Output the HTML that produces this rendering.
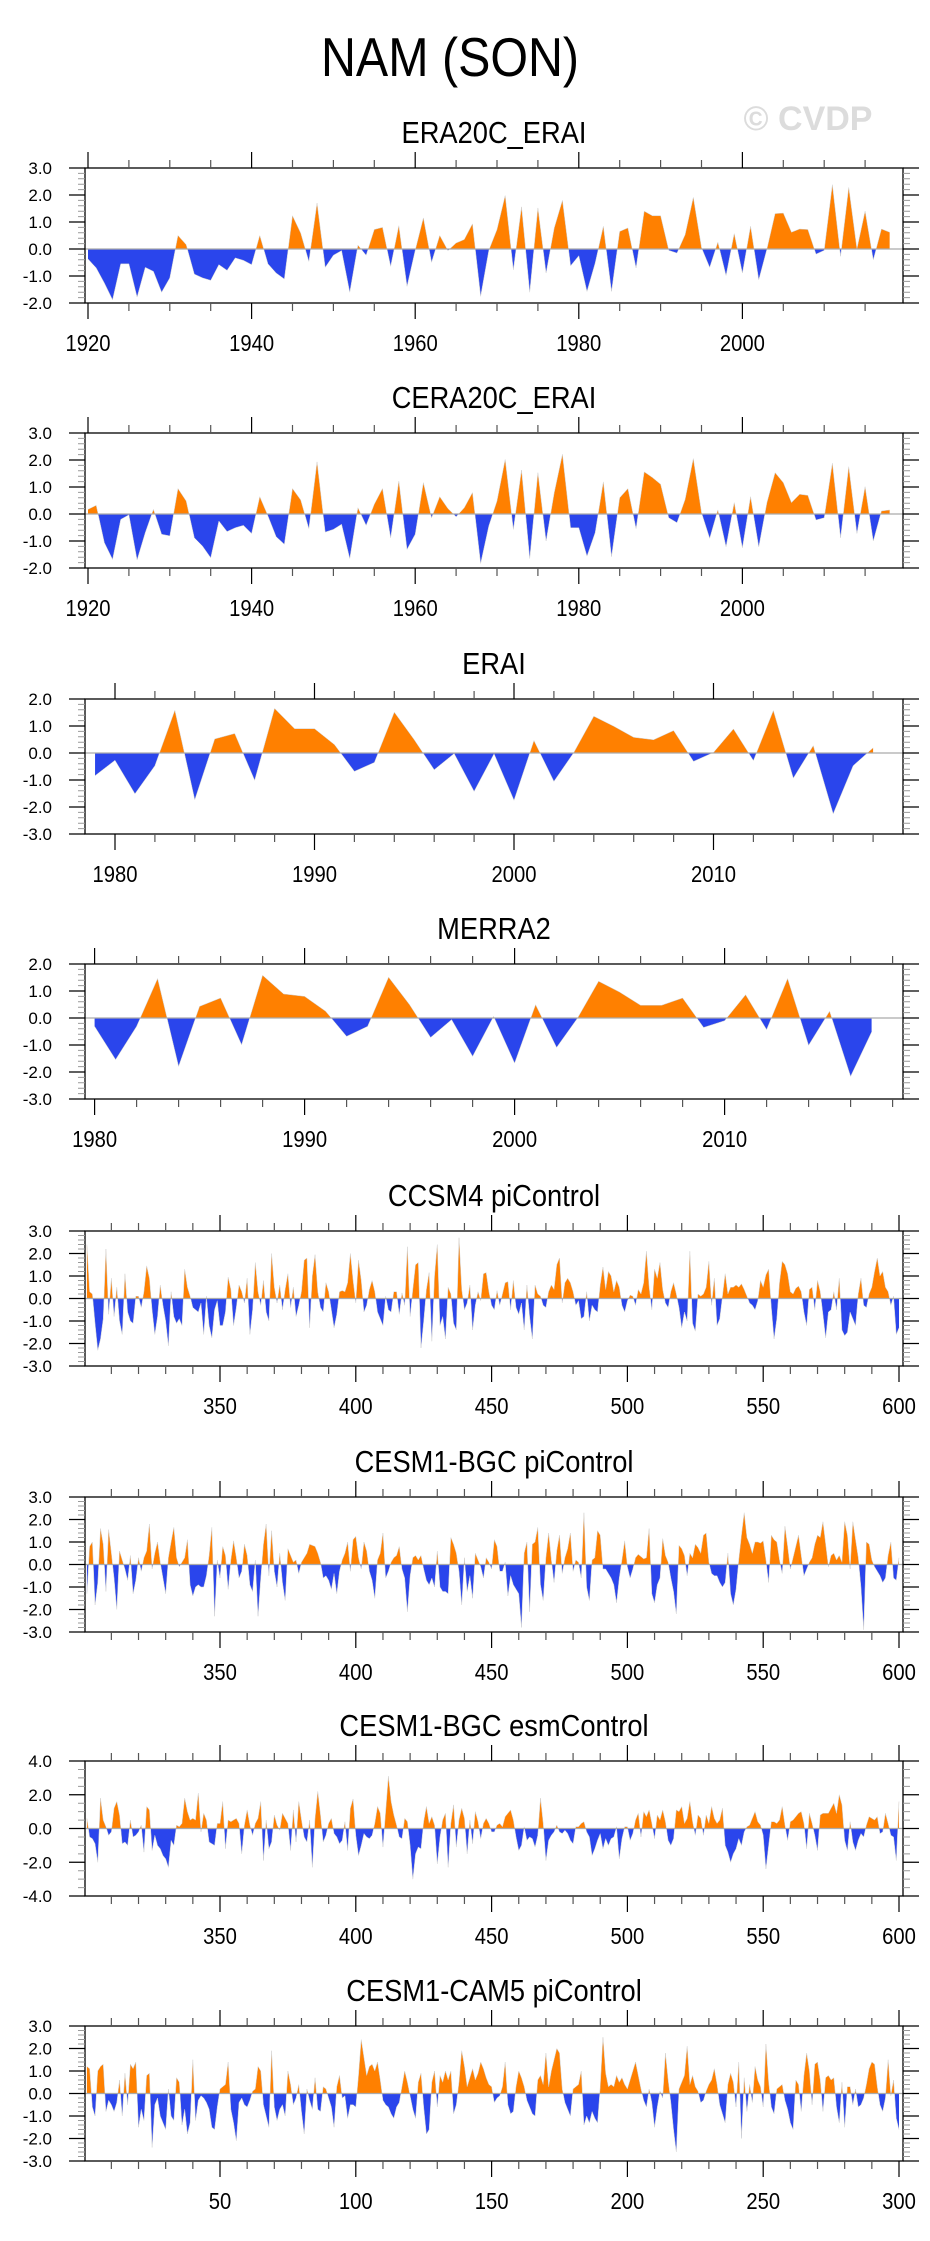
<!DOCTYPE html>
<html><head><meta charset="utf-8"><title>NAM (SON)</title>
<style>
html,body{margin:0;padding:0;background:#fff;}
svg{display:block;font-family:"Liberation Sans",Arial,sans-serif;}
</style></head>
<body>
<svg id="fig" width="930" height="2241" viewBox="0 0 930 2241" xmlns="http://www.w3.org/2000/svg">
<rect x="0" y="0" width="930" height="2241" fill="#fff"/>
<text transform="translate(450,76) scale(0.88,1)" x="0" y="0" font-size="55" text-anchor="middle" fill="#000">NAM (SON)</text>
<text x="808" y="130" font-size="34" font-weight="bold" text-anchor="middle" fill="#dcdcdc">© CVDP</text>
</svg>
<script>
const era20cVals=[-0.37,-0.7,-1.26,-1.88,-0.55,-0.55,-1.78,-0.68,-0.83,-1.6,
-1.07,0.5,0.16,-0.93,-1.07,-1.16,-0.58,-0.79,-0.33,-0.42,
-0.58,0.5,-0.55,-0.89,-1.11,1.23,0.59,-0.46,1.7,-0.68,
-0.23,-0.06,-1.6,0.14,-0.23,0.72,0.8,-0.64,0.86,-1.38,
-0.05,1.15,-0.49,0.5,-0.06,0.22,0.35,0.93,-1.75,-0.05,
0.72,1.98,-0.77,1.56,-1.6,1.52,-0.89,0.78,1.8,-0.62,
-0.25,-1.57,-0.52,0.84,-1.57,0.65,0.78,-0.7,1.4,1.23,
1.23,-0.05,-0.15,0.53,1.91,0.05,-0.68,0.25,-0.98,0.57,
-0.89,0.84,-1.14,0.0,1.31,1.33,0.62,0.74,0.72,-0.19,
-0.05,2.38,-0.27,2.28,0.0,1.4,-0.4,0.74,0.62];
const cera20cVals=[0.17,0.32,-1.06,-1.68,-0.2,-0.03,-1.7,-0.69,0.17,-0.75,
-0.81,0.94,0.48,-0.88,-1.19,-1.62,-0.26,-0.65,-0.51,-0.42,
-0.72,0.64,-0.07,-0.84,-1.12,0.94,0.52,-0.54,1.93,-0.67,
-0.57,-0.38,-1.65,0.23,-0.42,0.36,0.94,-0.88,1.22,-1.31,
-0.75,1.16,-0.14,0.64,0.2,-0.1,0.23,0.79,-1.83,-0.44,
0.48,2.02,-0.57,1.63,-1.65,1.53,-1.0,0.79,2.21,-0.51,
-0.51,-1.56,-0.69,1.19,-1.58,0.6,0.94,-0.54,1.56,1.35,
1.1,-0.14,-0.32,0.54,2.05,0.05,-0.9,0.15,-1.21,0.42,
-1.25,0.64,-1.22,0.42,1.53,1.16,0.42,0.73,0.69,-0.22,
-0.14,1.88,-0.88,1.75,-0.72,1.01,-1.0,0.11,0.15];
const eraiVals=[-0.84,-0.27,-1.51,-0.47,1.58,-1.73,0.52,0.72,-1.01,1.65,
0.9,0.9,0.31,-0.68,-0.35,1.51,0.49,-0.62,-0.02,-1.42,
-0.03,-1.75,0.46,-1.05,0.02,1.36,0.99,0.58,0.49,0.83,
-0.31,0.02,0.89,-0.28,1.57,-0.93,0.27,-2.25,-0.47,0.19];
const merra2Vals=[-0.31,-1.54,-0.31,1.46,-1.79,0.43,0.74,-0.99,1.58,0.89,
0.8,0.25,-0.68,-0.31,1.51,0.49,-0.72,-0.06,-1.42,0.06,
-1.67,0.49,-1.09,0.0,1.36,0.96,0.47,0.47,0.74,-0.35,
-0.1,0.86,-0.43,1.46,-1.01,0.25,-2.16,-0.52];
const ccsm4Vals=[2.4,0.3,0.2,-1.1,-2.3,-1.8,-0.9,2.2,-0.7,0.9,
-0.8,0.5,-1.0,-1.6,1.1,-0.6,-1.0,-1.1,0.1,0.1,
-0.4,0.3,1.45,0.9,-0.5,-1.6,-0.8,0.6,-0.3,-1.0,
-2.1,0.3,-0.8,-1.1,-0.9,-1.2,1.3,0.5,0.1,-0.4,
-0.5,-0.6,-0.2,-1.6,0.1,-1.2,-1.75,-0.5,-0.1,-1.2,
-1.2,-0.6,0.95,0.4,-1.2,-0.4,0.6,0.3,-0.2,0.9,
-1.6,-0.5,1.6,0.3,-0.3,0.8,-0.6,-1.0,2.0,0.5,
-0.2,0.6,-0.5,0.4,1.1,-0.4,0.5,-0.8,-0.3,0.3,
1.7,1.8,-1.3,1.0,1.95,0.3,-0.4,-0.6,0.7,0.3,
-0.5,-1.3,-0.7,0.3,0.35,0.3,0.7,2.0,0.8,-0.2,
1.7,0.8,-0.6,-0.3,0.4,0.8,0.3,-0.6,-0.9,-1.2,
0.1,-0.5,-0.6,0.3,0.3,-0.7,0.25,-0.3,2.3,-0.8,
0.4,1.5,1.6,-2.2,-1.0,0.4,1.15,-1.9,1.0,2.4,
-1.2,-0.8,-1.8,0.5,0.2,-1.1,-1.4,2.7,0.4,-0.5,
-0.2,0.6,-1.4,-0.3,0.3,-0.1,1.1,1.15,0.3,-0.3,
-0.5,0.35,-0.3,0.2,0.7,0.75,-0.5,0.8,-0.4,-0.7,
-0.2,-1.4,0.6,-0.8,-1.8,0.6,0.2,0.1,-0.3,-0.4,
0.3,0.6,0.4,1.5,1.8,-0.2,0.7,0.9,0.7,0.3,
-0.3,-0.1,-0.9,-0.8,0.3,-1.0,-0.3,-0.5,-0.6,0.6,
1.4,0.4,1.2,1.0,0.3,0.8,0.5,-0.3,-0.6,-0.1,
0.15,0.1,-0.3,0.4,0.2,0.7,2.1,0.5,-0.5,1.3,
0.9,1.6,0.4,-0.2,-0.4,0.3,0.7,0.2,-0.4,-1.3,
-0.6,-1.0,2.1,-1.1,-1.45,0.2,0.1,0.2,0.5,1.65,
-0.3,0.9,-1.2,-0.9,0.1,1.1,0.2,0.5,0.5,0.6,
0.5,0.65,0.4,0.1,-0.2,-0.3,-0.5,-0.1,0.8,0.5,
1.05,1.3,-0.4,-1.8,-0.9,0.7,1.65,1.5,1.1,0.3,
0.2,0.45,0.55,0.3,-0.6,-1.2,0.4,0.5,-0.5,0.8,
0.3,-0.7,-1.75,-0.6,-0.5,0.3,-0.5,0.9,-1.4,-1.65,
-1.5,-0.6,-0.9,-1.2,0.2,0.9,-0.3,-0.4,0.2,0.5,
1.2,1.8,1.0,1.2,0.5,0.3,-0.3,0.1,-1.6,-1.3];
const bgcPiVals=[-1.3,0.8,1.0,-1.8,-0.8,1.6,0.9,-1.2,1.55,0.5,
-0.6,-2.0,0.6,0.2,-0.2,-0.7,0.4,-1.3,-0.7,0.3,
-0.3,0.3,0.6,1.8,-0.2,0.5,1.0,0.1,-0.6,-1.3,
0.3,1.0,1.65,0.3,-0.1,0.1,0.3,1.1,-0.9,-1.4,
-1.0,-0.9,-1.0,-1.0,-0.5,0.4,1.65,-2.3,0.2,-0.6,
0.8,0.4,-1.1,0.2,1.05,0.3,-0.6,-0.3,0.9,0.4,
-0.9,-1.2,0.2,-2.3,-0.6,0.9,1.8,-0.5,1.5,-0.3,
-1.0,0.5,-0.8,-1.6,0.7,0.4,0.1,0.2,-0.4,0.1,
0.3,0.5,0.9,0.85,0.8,0.5,0.1,-0.6,-0.5,-0.7,
-1.1,-0.4,-1.3,-0.3,0.2,0.5,1.0,-0.3,1.1,1.25,
0.3,-0.2,1.0,0.6,-0.3,-0.7,-1.5,0.2,0.5,1.4,
-0.6,-0.3,0.1,0.3,0.4,0.8,-0.2,-0.6,-2.1,-0.5,
0.3,0.4,0.2,0.4,-0.2,-0.7,-0.9,-0.6,-1.0,0.6,
-1.0,-1.2,-1.2,-1.3,1.2,0.9,0.5,-0.3,-1.8,0.3,
-1.2,-0.5,-1.5,0.5,0.2,-0.1,-0.6,0.3,0.1,-0.2,
1.1,0.8,-0.3,-0.3,0.1,-1.4,-0.5,-0.9,-1.1,-1.3,
-2.8,0.5,1.0,-2.1,0.9,1.0,1.65,-0.9,-1.6,0.3,
1.4,0.2,-0.8,0.6,1.3,-0.4,0.3,0.7,1.4,-0.3,
0.2,0.1,-0.6,2.3,-1.0,-1.6,0.2,0.3,1.5,1.3,
-0.2,-0.2,-0.4,-0.6,-0.9,-1.7,-0.6,0.2,1.05,-0.1,
-0.6,-0.2,0.3,0.45,0.35,0.25,0.3,1.6,-1.3,-1.7,
-0.9,-0.6,1.15,0.4,0.1,-0.6,-1.2,-2.2,0.85,0.7,
0.4,-0.5,0.5,0.3,0.9,0.75,0.5,1.3,1.4,0.1,
-0.4,-0.5,-0.5,-0.8,-1.0,-0.8,0.5,-1.3,-1.8,-1.1,
0.2,1.3,2.3,1.2,0.9,0.5,1.0,1.0,0.95,1.05,
0.2,-0.8,1.3,1.1,1.0,0.2,-0.4,1.7,0.8,-0.2,
0.3,0.8,1.3,0.4,-0.5,-0.2,0.1,0.3,0.9,1.3,
1.2,1.9,0.9,-0.1,0.4,0.5,0.2,0.4,0.1,1.9,
1.3,-0.2,1.9,1.1,0.3,-1.0,-2.9,1.0,0.9,0.2,
-0.1,-0.3,-0.5,-0.8,-0.6,0.4,1.0,-0.6,-0.7,0.3];
const bgcEsmVals=[0.6,-0.5,-0.6,-0.9,-2.0,1.8,0.5,0.1,-0.4,-0.2,
1.2,1.6,0.8,-0.9,-0.8,-1.0,0.5,-0.5,-0.4,-0.2,
0.2,-1.4,1.3,1.1,-1.3,-0.4,-1.0,-1.2,-1.6,-1.8,
-2.3,-0.7,-1.0,0.2,0.1,0.3,1.8,1.0,0.5,0.6,
0.5,2.1,-0.2,0.9,0.5,-0.8,-0.9,-1.0,0.3,0.3,
1.6,-1.2,0.5,0.4,0.5,0.6,0.3,-1.5,0.2,1.1,
0.2,-0.4,0.3,0.6,1.6,-1.9,0.5,-1.2,-0.8,0.8,
0.2,-0.1,0.9,0.6,0.3,-1.3,1.1,-0.8,1.6,0.5,
-0.5,-0.8,0.5,-2.3,0.6,2.2,0.8,-0.8,-0.4,0.3,
0.6,-0.3,-0.5,-0.9,-0.7,0.4,-1.3,1.2,1.75,-0.4,
-1.6,-1.0,-0.3,-0.5,-0.6,-0.4,0.3,1.3,0.9,-1.1,
1.0,3.1,1.6,0.8,0.2,-0.5,-0.6,0.6,0.4,-1.0,
-3.0,-1.5,-1.1,-1.2,0.4,1.3,0.3,0.7,0.2,-2.1,
-0.5,0.5,0.9,-2.3,0.3,1.4,-1.1,0.5,1.2,0.6,
-1.5,0.5,-0.9,1.0,0.4,-0.6,0.3,0.6,0.3,-0.2,
-0.2,0.2,0.3,0.1,0.7,0.9,1.1,0.5,-0.5,-1.3,
-1.0,0.1,-0.7,-0.5,-0.6,-1.1,-0.4,1.8,0.3,-1.9,
-0.7,-0.4,-0.2,0.2,-0.2,-0.3,-0.1,-0.3,-0.7,-0.9,
0.1,0.1,0.3,0.4,-0.2,-0.5,-1.6,-1.2,-0.7,-0.3,
-1.2,-0.6,-1.0,-0.6,-0.5,0.1,-1.8,-0.6,0.1,0.1,
-0.7,-0.3,0.5,0.9,-0.5,1.0,0.7,1.1,0.3,-0.6,
0.8,0.5,1.1,0.4,-0.7,-1.0,-0.6,1.1,1.0,1.3,
0.3,0.6,1.6,0.4,-0.4,0.8,0.6,-0.4,0.8,0.3,
1.3,0.6,0.3,0.5,1.2,-1.0,-1.4,-2.0,-1.5,-1.2,
-0.6,-1.0,-0.2,0.1,0.2,0.6,1.0,0.4,0.2,-0.4,
-2.4,-1.0,0.4,0.4,0.3,0.5,1.3,0.2,-0.7,0.4,
0.5,0.7,0.9,1.0,0.3,-1.2,0.9,0.3,-0.4,-1.3,
0.8,0.9,0.9,0.9,1.2,1.5,0.9,2.0,1.4,-0.7,
-1.3,0.4,-0.8,-1.3,-0.7,-0.3,-0.5,0.2,0.7,0.6,
0.5,0.7,-0.3,-0.2,0.9,0.3,-0.4,-0.5,-1.9,1.6];
const cam5Vals=[1.2,1.1,-0.6,-1.0,1.0,1.2,1.3,-0.8,-0.3,-0.5,
-0.8,-0.4,0.6,-1.0,0.9,-0.5,1.3,1.1,1.4,-1.5,
-0.7,-1.2,0.8,0.9,-2.4,-0.5,-0.2,-1.0,-1.3,-1.6,
0.2,-1.0,-1.2,0.7,0.5,-1.4,-0.7,-1.8,-1.3,1.5,
-1.2,-0.3,-0.1,-0.2,-0.4,-0.7,-1.5,-1.6,-0.6,0.2,
0.3,0.4,1.4,-0.7,-1.3,-2.1,-0.4,-0.2,-0.5,-0.6,
-0.3,0.1,0.2,1.2,1.0,-0.5,-1.0,-1.5,1.9,-0.6,
-1.2,-0.7,-0.5,-1.0,1.0,0.4,-0.5,-0.2,0.4,-0.8,
-1.8,0.2,-0.3,-0.7,0.7,-0.7,-0.8,0.3,0.2,-0.2,
-0.6,-1.5,0.3,0.8,-0.2,-0.1,-1.1,-0.5,-0.5,-0.6,
0.8,2.4,1.6,0.8,1.2,1.3,1.0,1.4,0.6,-0.3,
-0.5,-0.6,-0.9,-1.1,-0.6,-0.4,0.3,1.0,0.5,-0.1,
-0.7,-1.1,0.5,0.9,-0.6,-1.8,-1.6,0.5,1.0,-0.6,
0.8,0.5,1.0,0.6,1.0,-0.9,-0.5,0.5,1.9,1.2,
0.3,0.7,1.1,0.6,0.9,1.4,1.1,0.7,0.4,0.3,
-0.4,-0.2,-0.1,0.3,1.4,-0.5,-0.9,-0.8,0.3,1.0,
0.7,0.3,-0.3,-0.6,-0.9,-1.0,0.6,0.8,0.4,1.8,
0.3,1.0,1.5,2.0,1.8,0.2,-0.4,-0.7,-1.0,0.2,
0.3,0.4,1.0,-1.4,-1.0,-1.3,-0.8,-1.1,-1.3,0.3,
2.5,0.9,0.3,0.4,0.3,0.8,0.5,0.7,0.4,0.2,
0.6,1.0,1.4,0.8,0.2,-0.3,-0.6,0.2,-0.4,-1.5,
-0.6,0.1,-0.2,1.8,0.6,-0.4,-1.6,-2.6,0.2,0.5,
0.8,2.1,0.4,0.8,0.3,0.1,-0.4,-0.3,0.1,0.4,
0.6,1.1,0.4,-0.5,-0.9,-1.3,0.4,0.9,0.5,-0.6,
1.4,-2.0,0.7,-0.8,0.4,-0.4,1.2,0.6,0.3,-0.6,
2.2,0.5,-0.6,-0.9,0.2,0.3,0.4,-0.3,-0.7,-1.3,
-1.6,0.6,0.4,-0.8,0.8,1.8,1.0,-0.5,1.3,1.4,
0.6,-0.8,0.7,0.8,0.6,0.7,-0.6,-1.3,0.5,-1.5,
0.3,0.3,-0.5,0.2,-0.6,-0.5,-0.2,0.4,1.1,1.4,
1.3,0.3,-0.5,-0.8,-0.2,1.5,-0.1,0.6,-1.1,-1.6];
const panelTitles=["ERA20C_ERAI","CERA20C_ERAI","ERAI","MERRA2","CCSM4 piControl","CESM1-BGC piControl","CESM1-BGC esmControl","CESM1-CAM5 piControl"];
const panelSeries=[era20cVals,cera20cVals,eraiVals,merra2Vals,ccsm4Vals,bgcPiVals,bgcEsmVals,cam5Vals];
const panelStartYears=[1920,1920,1979,1980,301,301,301,1];

const layout=[
 {top:168,yMin:-2,yMax:3,yMaj:1,yMin2:0.2,refY:1920,refPx:88,ppy:8.18,xMaj:20,xMin:5},
 {top:433,yMin:-2,yMax:3,yMaj:1,yMin2:0.2,refY:1920,refPx:88,ppy:8.18,xMaj:20,xMin:5},
 {top:699,yMin:-3,yMax:2,yMaj:1,yMin2:0.2,refY:1980,refPx:115,ppy:19.95,xMaj:10,xMin:2},
 {top:964,yMin:-3,yMax:2,yMaj:1,yMin2:0.2,refY:1980,refPx:94.6,ppy:21.0,xMaj:10,xMin:2},
 {top:1231,yMin:-3,yMax:3,yMaj:1,yMin2:0.2,refY:350,refPx:220,ppy:2.716,xMaj:50,xMin:10},
 {top:1497,yMin:-3,yMax:3,yMaj:1,yMin2:0.2,refY:350,refPx:220,ppy:2.716,xMaj:50,xMin:10},
 {top:1761,yMin:-4,yMax:4,yMaj:2,yMin2:0.5,refY:350,refPx:220,ppy:2.716,xMaj:50,xMin:10},
 {top:2026,yMin:-3,yMax:3,yMaj:1,yMin2:0.2,refY:50,refPx:220,ppy:2.716,xMaj:50,xMin:10}
];
const NS='http://www.w3.org/2000/svg';
const svg=document.getElementById('fig');
const BL=85,BR=903,BH=135;
function mk(tag,attrs,parent){const e=document.createElementNS(NS,tag);for(const k in attrs)e.setAttribute(k,attrs[k]);parent.appendChild(e);return e;}

layout.forEach((L,pi)=>{
  const vals=panelSeries[pi], start=panelStartYears[pi];
  const top=L.top, bot=top+BH;
  const xs=yr=>L.refPx+(yr-L.refY)*L.ppy;
  const ys=v=>top+(L.yMax-v)/(L.yMax-L.yMin)*BH;
  const g=mk('g',{},svg);
  
  
  const t=mk('text',{x:0,y:0,transform:'translate(494,'+(top-25)+') scale(0.88,1)','font-size':31,'text-anchor':'middle',fill:'#000'},g);
  
  
  t.textContent=panelTitles[pi];
  const pts=[];
  for(let i=0;i<vals.length;i++){
    const yr=start+i,v=vals[i];
    if(i>0){const pv=vals[i-1];if((pv>0&&v<0)||(pv<0&&v>0)){const f=pv/(pv-v);pts.push([yr-1+f,0]);}}
    pts.push([yr,v]);
  }
  const x0=xs(start),x1=xs(start+vals.length-1),y0=ys(0);
  let dp='M'+x0.toFixed(2)+','+y0.toFixed(2),dn=dp,dl='';
  pts.forEach((p,k)=>{const x=xs(p[0]).toFixed(2);dp+='L'+x+','+ys(Math.max(p[1],0)).toFixed(2);dn+='L'+x+','+ys(Math.min(p[1],0)).toFixed(2);dl+=(k?'L':'M')+x+','+ys(p[1]).toFixed(2);});
  dp+='L'+x1.toFixed(2)+','+y0.toFixed(2)+'Z';dn+='L'+x1.toFixed(2)+','+y0.toFixed(2)+'Z';
  const pa=mk('path',{d:dp,fill:'#ff8000',stroke:'none'},g);
  
  
  const na=mk('path',{d:dn,fill:'#2a45ec',stroke:'none'},g);
  
  
  const ln=mk('path',{d:dl,fill:'none',stroke:'#d0d0d0','stroke-width':0.5},g);
  
  
  const zl=mk('line',{x1:BL,x2:BR,y1:y0,y2:y0,stroke:'#aaa','stroke-width':1.2},g);
  
  
  const fr=mk('rect',{x:BL,y:top,width:BR-BL,height:BH,fill:'none',stroke:'#000','stroke-width':1.3},g);
  
  
  const yrL=L.refY+(BL-L.refPx)/L.ppy, yrR=L.refY+(BR-L.refPx)/L.ppy;
  for(let tv=Math.ceil(yrL/L.xMin)*L.xMin;tv<=yrR;tv+=L.xMin){
    const x=xs(tv),maj=(tv%L.xMaj===0),len=maj?16:8,col=maj?'#000':'#555';
    const tk=mk('path',{d:'M'+x+','+top+'V'+(top-len)+'M'+x+','+bot+'V'+(bot+len),stroke:col,'stroke-width':1.2},g);
    
    
    if(maj){
      const lb=mk('text',{x:0,y:0,transform:'translate('+x+','+(bot+48)+') scale(0.88,1)','font-size':23,'text-anchor':'middle',fill:'#000'},g);
      
      
      lb.textContent=String(tv);
    }
  }
  const nMin=Math.round((L.yMax-L.yMin)/L.yMin2);
  for(let k=0;k<=nMin;k++){
    const v=L.yMin+k*L.yMin2,y=ys(v);
    const maj=Math.abs(v/L.yMaj-Math.round(v/L.yMaj))<1e-6;
    const len=maj?16:7,col=maj?'#000':'#999';
    const tk=mk('path',{d:'M'+BL+','+y+'H'+(BL-len)+'M'+BR+','+y+'H'+(BR+len),stroke:col,'stroke-width':maj?1.2:1},g);
    
    
    if(maj){
      const lb=mk('text',{x:52,y:y+6,'font-size':17,'text-anchor':'end',fill:'#000'},g);
      
      
      lb.textContent=(Math.round(v*10)/10).toFixed(1);
    }
  }
});
</script>
</body></html>
